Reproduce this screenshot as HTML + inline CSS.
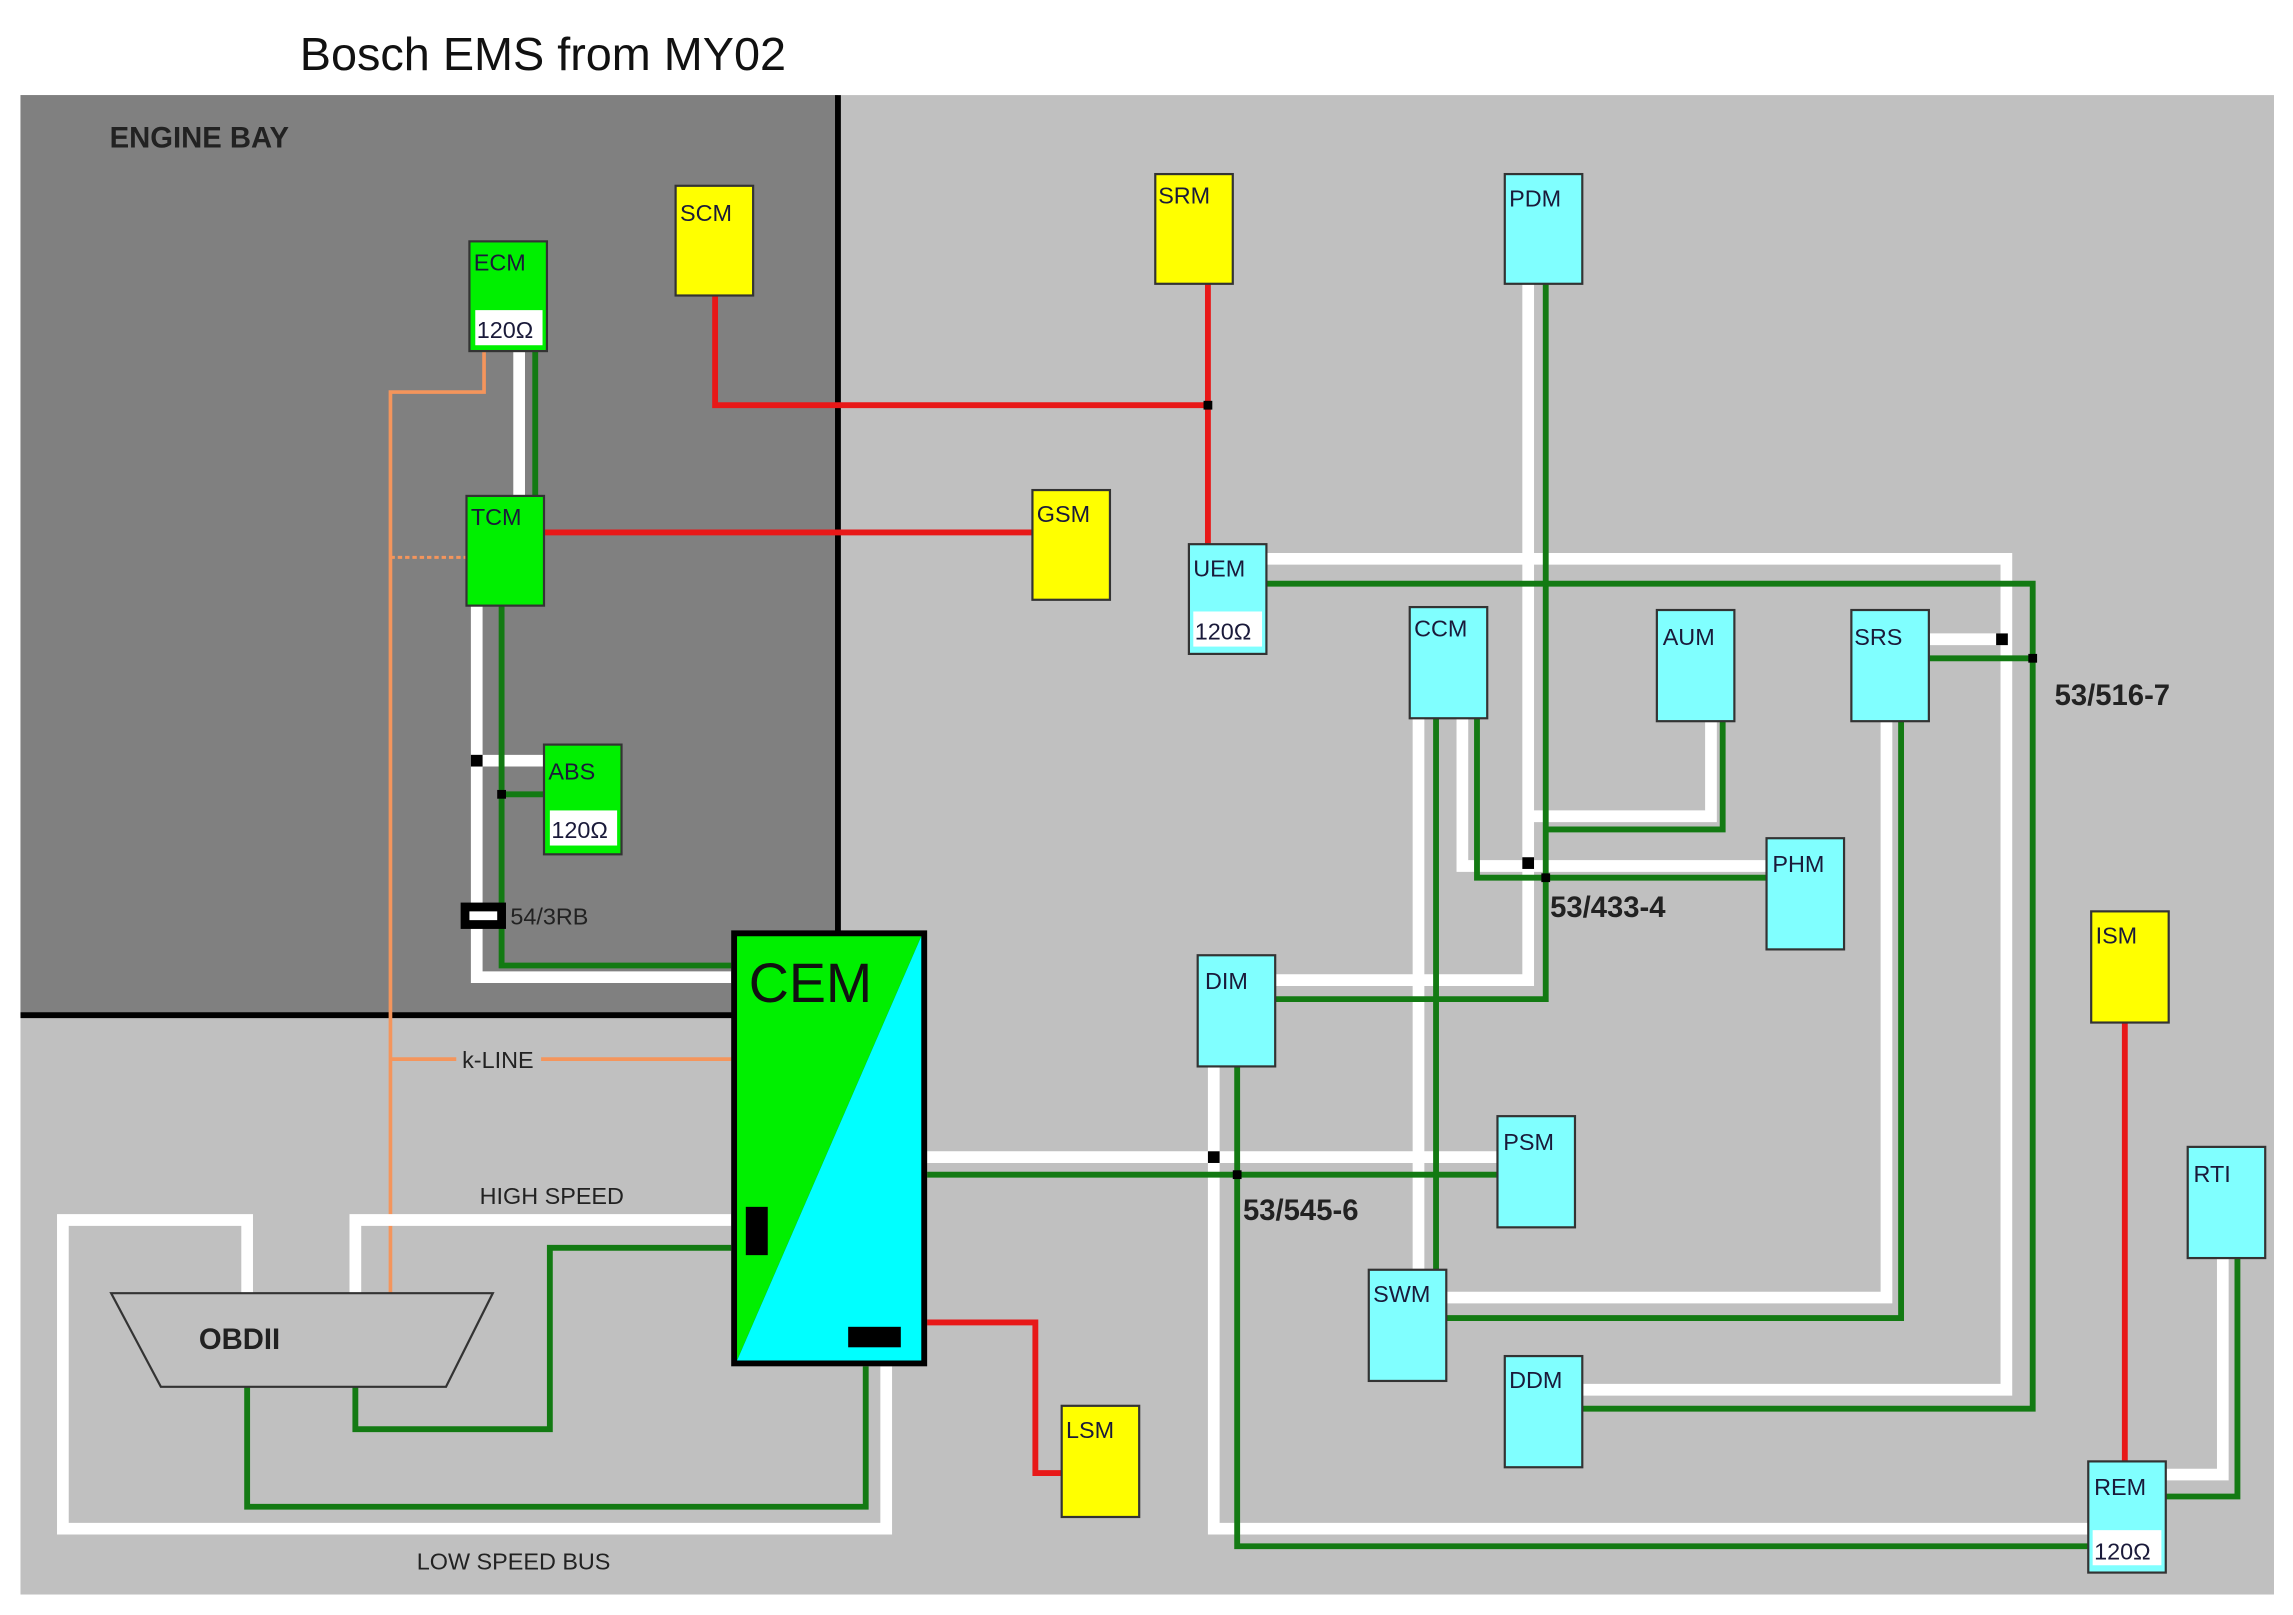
<!DOCTYPE html>
<html><head><meta charset="utf-8"><style>
html,body{margin:0;padding:0;background:#fff;}
svg{display:block;}
text{font-family:"Liberation Sans",sans-serif;}
.l{font-size:16px;fill:#1a1a3a;}
.b{font-size:20px;font-weight:bold;fill:#222;}
</style></head><body>
<svg width="2293" height="1615" viewBox="0 0 1568 1104" preserveAspectRatio="none" xmlns="http://www.w3.org/2000/svg">
<rect x="0" y="0" width="1568" height="1104" fill="#fff"/>
<rect x="14" y="65" width="1541" height="1025" fill="#c0c0c0"/>
<rect x="14" y="65" width="559" height="629" fill="#808080"/>
<line x1="573" y1="65" x2="573" y2="694" stroke="#000" stroke-width="4"/>
<line x1="14" y1="694" x2="502" y2="694" stroke="#000" stroke-width="4"/>
<text x="205" y="48" font-size="32" fill="#111">Bosch EMS from MY02</text>
<text x="75" y="101" font-size="20" font-weight="bold" fill="#222">ENGINE BAY</text>

<g fill="none" stroke-linejoin="miter">
<polyline points="331,240 331,268 267,268 267,884" stroke="#f4955c" stroke-width="2.5"/>
<line x1="267" y1="381" x2="319" y2="381" stroke="#f4955c" stroke-width="2" stroke-dasharray="3,2"/>
<line x1="267" y1="724" x2="312" y2="724" stroke="#f4955c" stroke-width="2.5"/>
<line x1="370" y1="724" x2="500" y2="724" stroke="#f4955c" stroke-width="2.5"/>

<g stroke="#fff" stroke-width="8">
<line x1="355" y1="240" x2="355" y2="339"/>
<polyline points="326,414 326,668 500,668"/>
<line x1="326" y1="520" x2="372" y2="520"/>
<polyline points="169,884 169,834 43,834 43,1045 606,1045 606,934"/>
<polyline points="243,884 243,834 500,834"/>
<line x1="634" y1="791" x2="1024" y2="791"/>
<polyline points="830,729 830,1045 1428,1045"/>
<polyline points="872,670 1045,670 1045,194"/>
<polyline points="1170,493 1170,558 1045,558"/>
<polyline points="1000,491 1000,592 1208,592"/>
<line x1="970" y1="491" x2="970" y2="868"/>
<polyline points="989,887 1290,887 1290,493"/>
<polyline points="866,382 1372,382 1372,950 1082,950"/>
<line x1="1319" y1="437" x2="1372" y2="437"/>
<polyline points="1520,860 1520,1008 1481,1008"/>
</g>
<g stroke="#137a13" stroke-width="4">
<line x1="366" y1="240" x2="366" y2="339"/>
<polyline points="343,414 343,660 500,660"/>
<line x1="343" y1="543" x2="372" y2="543"/>
<polyline points="169,948 169,1030 592,1030 592,934"/>
<polyline points="243,948 243,977 376,977 376,853 500,853"/>
<line x1="634" y1="803" x2="1024" y2="803"/>
<polyline points="846,729 846,1057 1428,1057"/>
<polyline points="872,683 1057,683 1057,194"/>
<polyline points="1178,493 1178,567 1057,567"/>
<polyline points="1010,491 1010,600 1208,600"/>
<line x1="982" y1="491" x2="982" y2="868"/>
<polyline points="989,901 1300,901 1300,493"/>
<polyline points="866,399 1390,399 1390,963 1082,963"/>
<line x1="1319" y1="450" x2="1390" y2="450"/>
<polyline points="1530,860 1530,1023 1481,1023"/>
</g>
<g stroke="#e81818" stroke-width="4">
<polyline points="489,202 489,277 826,277"/>
<line x1="826" y1="194" x2="826" y2="372"/>
<line x1="372" y1="364" x2="706" y2="364"/>
<polyline points="634,904 708,904 708,1007 726,1007"/>
<line x1="1453" y1="699" x2="1453" y2="999"/>
</g>
</g>

<g fill="#000">
<rect x="322" y="516" width="8" height="8"/><rect x="340" y="540" width="6" height="6"/>
<rect x="823" y="274" width="6" height="6"/>
<rect x="826" y="787" width="8" height="8"/><rect x="843" y="800" width="6" height="6"/>
<rect x="1041" y="586" width="8" height="8"/><rect x="1054" y="597" width="6" height="6"/>
<rect x="1365" y="433" width="8" height="8"/><rect x="1387" y="447" width="6" height="6"/>
</g>
<rect x="315" y="617" width="31" height="18" fill="#000"/>
<rect x="321" y="623" width="19" height="6" fill="#fff"/>
<text x="349" y="632" font-size="16" fill="#222">54/3RB</text>

<text x="316" y="730" font-size="16" fill="#222">k-LINE</text>
<text x="328" y="823" font-size="16" fill="#222">HIGH SPEED</text>
<text x="285" y="1073" font-size="16" fill="#222">LOW SPEED BUS</text>
<text x="850" y="834" class="b">53/545-6</text>
<text x="1060" y="627" class="b">53/433-4</text>
<text x="1405" y="482" class="b">53/516-7</text>

<polygon points="76,884 337,884 305,948 110,948" fill="#c0c0c0" stroke="#333" stroke-width="1.5"/>
<text x="136" y="922" font-size="20" font-weight="bold" fill="#222">OBDII</text>

<rect x="500" y="636" width="134" height="298" fill="#000"/>
<polygon points="504,640 630,640 504,930" fill="#00f000"/>
<polygon points="630,640 630,930 504,930" fill="#00ffff"/>
<text x="512" y="685" font-size="38" fill="#111">CEM</text>
<rect x="510" y="825" width="15" height="33" fill="#000"/>
<rect x="580" y="907" width="36" height="14" fill="#000"/>

<g stroke="#333" stroke-width="1.5">
<rect x="321" y="165" width="53" height="75" fill="#00f000"/>
<rect x="319" y="339" width="53" height="75" fill="#00f000"/>
<rect x="372" y="509" width="53" height="75" fill="#00f000"/>
<rect x="462" y="127" width="53" height="75" fill="#ffff00"/>
<rect x="790" y="119" width="53" height="75" fill="#ffff00"/>
<rect x="706" y="335" width="53" height="75" fill="#ffff00"/>
<rect x="726" y="961" width="53" height="76" fill="#ffff00"/>
<rect x="1430" y="623" width="53" height="76" fill="#ffff00"/>
<rect x="1029" y="119" width="53" height="75" fill="#80ffff"/>
<rect x="813" y="372" width="53" height="75" fill="#80ffff"/>
<rect x="964" y="415" width="53" height="76" fill="#80ffff"/>
<rect x="1133" y="417" width="53" height="76" fill="#80ffff"/>
<rect x="1266" y="417" width="53" height="76" fill="#80ffff"/>
<rect x="1208" y="573" width="53" height="76" fill="#80ffff"/>
<rect x="819" y="653" width="53" height="76" fill="#80ffff"/>
<rect x="1024" y="763" width="53" height="76" fill="#80ffff"/>
<rect x="1496" y="784" width="53" height="76" fill="#80ffff"/>
<rect x="936" y="868" width="53" height="76" fill="#80ffff"/>
<rect x="1029" y="927" width="53" height="76" fill="#80ffff"/>
<rect x="1428" y="999" width="53" height="76" fill="#80ffff"/>
</g>
<g fill="#fff">
<rect x="325" y="212" width="46" height="24"/>
<rect x="376" y="554" width="46" height="24"/>
<rect x="816" y="418" width="47" height="24"/>
<rect x="1431" y="1046" width="47" height="24"/>
</g>
<g class="l">
<text x="324" y="185" class="l">ECM</text>
<text x="322" y="359" class="l">TCM</text>
<text x="375" y="533" class="l">ABS</text>
<text x="465" y="151" class="l">SCM</text>
<text x="792" y="139" class="l">SRM</text>
<text x="709" y="357" class="l">GSM</text>
<text x="729" y="983" class="l">LSM</text>
<text x="1433" y="645" class="l">ISM</text>
<text x="1032" y="141" class="l">PDM</text>
<text x="816" y="394" class="l">UEM</text>
<text x="967" y="435" class="l">CCM</text>
<text x="1137" y="441" class="l">AUM</text>
<text x="1268" y="441" class="l">SRS</text>
<text x="1212" y="596" class="l">PHM</text>
<text x="824" y="676" class="l">DIM</text>
<text x="1028" y="786" class="l">PSM</text>
<text x="1500" y="808" class="l">RTI</text>
<text x="939" y="890" class="l">SWM</text>
<text x="1032" y="949" class="l">DDM</text>
<text x="1432" y="1022" class="l">REM</text>
<text x="326" y="231" class="l" fill="#111">120Ω</text>
<text x="377" y="573" class="l" fill="#111">120Ω</text>
<text x="817" y="437" class="l" fill="#111">120Ω</text>
<text x="1432" y="1066" class="l" fill="#111">120Ω</text>
</g>
</svg>
</body></html>
